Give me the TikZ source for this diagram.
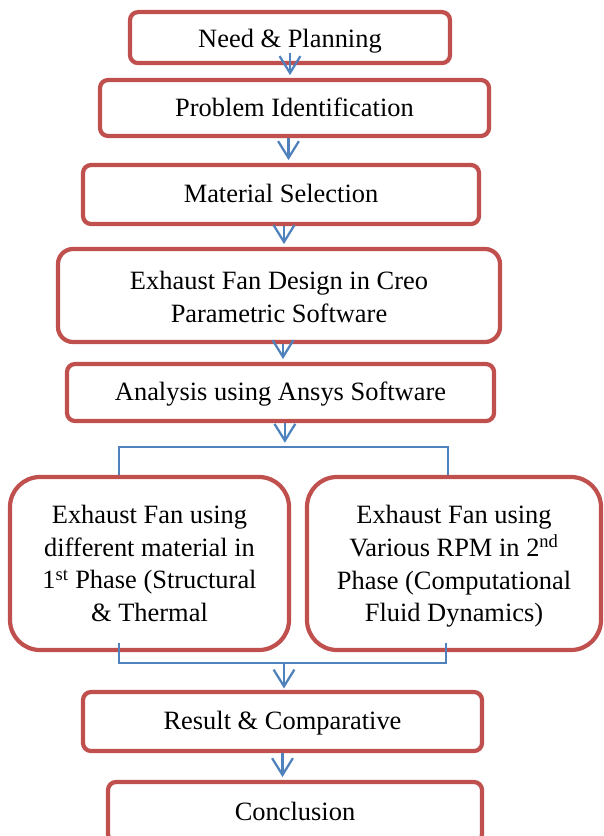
\documentclass[tikz,border=0pt]{standalone}
\usepackage{fontspec}
\setmainfont{Liberation Serif}
\usepackage{tikz}
\usetikzlibrary{arrows.meta, calc}

\definecolor{boxred}{HTML}{C0504D}
\definecolor{flowblue}{HTML}{4F81BD}

\tikzset{
    stage/.style={draw=boxred, line width=3pt, rounded corners=0.2cm, align=center,
        font=\fontsize{18.8}{23.4}\selectfont, inner sep=0pt},
    oneline/.style={text height=0.55cm, text depth=0.15cm},
    flow/.style={draw=flowblue, line width=1.6pt, -{Straight Barb[length=4.2mm,width=5.2mm]}, shorten >=2pt},
    link/.style={draw=flowblue, line width=1.3pt}
}

\begin{document}
\begin{tikzpicture}
    \useasboundingbox (0,0) rectangle (15.1,-20.9);

    \node[stage, oneline, text height=0.65cm, minimum width=8cm, minimum height=1.275cm] (need) at (7.25,-0.94) {Need \& Planning};
    \node[stage, oneline, minimum width=9.725cm, minimum height=1.4cm] (prob) at (7.3625,-2.7) {Problem Identification};
    \node[stage, oneline, minimum width=9.9cm, minimum height=1.475cm] (mat) at (7.025,-4.8625) {Material Selection};
    \node[stage, rounded corners=0.375cm, minimum width=11.05cm, minimum height=2.325cm] (design) at (6.975,-7.3875)
        {\rule{0pt}{15.6pt}Exhaust Fan Design in Creo\\Parametric Software};
    \node[stage, oneline, minimum width=10.675cm, minimum height=1.425cm] (anal) at (7.0125,-9.8125) {Analysis using Ansys Software};

    \node[stage, rounded corners=0.75cm, minimum width=6.975cm, minimum height=4.325cm] (left) at (3.7375,-14.0875)
        {Exhaust Fan using\\different material in\\1\textsuperscript{st} Phase (Structural\\\& Thermal};
    \node[stage, rounded corners=0.75cm, minimum width=7.35cm, minimum height=4.325cm] (right) at (11.35,-14.0875)
        {\rule{0pt}{17pt}Exhaust Fan using\\Various RPM in 2\textsuperscript{nd}\\Phase (Computational\\Fluid Dynamics)};

    \node[stage, oneline, minimum width=9.975cm, minimum height=1.475cm] (res) at (7.0625,-18.0375) {Result \& Comparative};
    \node[stage, oneline, minimum width=9.35cm, minimum height=1.5cm] (conc) at (7.375,-20.3) {Conclusion};

    % split and join
    \coordinate (splitL) at (2.975,-11.175);
    \coordinate (splitR) at (11.2,-11.175);
    \coordinate (joinL) at (2.975,-16.575);
    \coordinate (joinR) at (11.15,-16.575);
    \coordinate (joinM) at (7.1,-16.575);

    \draw[flow] ([yshift=3mm]need.south) -- (need.south |- prob.north);
    \draw[flow] ([xshift=-1.5mm]prob.south) -- ([xshift=-1.5mm]prob.south |- mat.north);
    \draw[flow] ([xshift=0.75mm]mat.south) -- ([xshift=0.75mm]mat.south |- design.north);
    \draw[flow] ([xshift=1mm]design.south) -- ([xshift=1mm]design.south |- anal.north);
    \draw[flow, shorten >=3pt] ([xshift=1.1mm]anal.south) -- ([xshift=1.1mm]anal.south |- splitL);

    \draw[link] (splitL |- left.north) -- (splitL) -- (splitR) -- (splitR |- right.north);
    \draw[link] ($(joinL |- left.south)+(0,0.225)$) -- (joinL) -- (joinR) -- ($(joinR |- right.south)+(0,0.225)$);

    \draw[flow, shorten >=1pt] (joinM) -- (joinM |- res.north);
    \draw[flow] (res.south) -- (res.south |- conc.north);
\end{tikzpicture}
\end{document}
